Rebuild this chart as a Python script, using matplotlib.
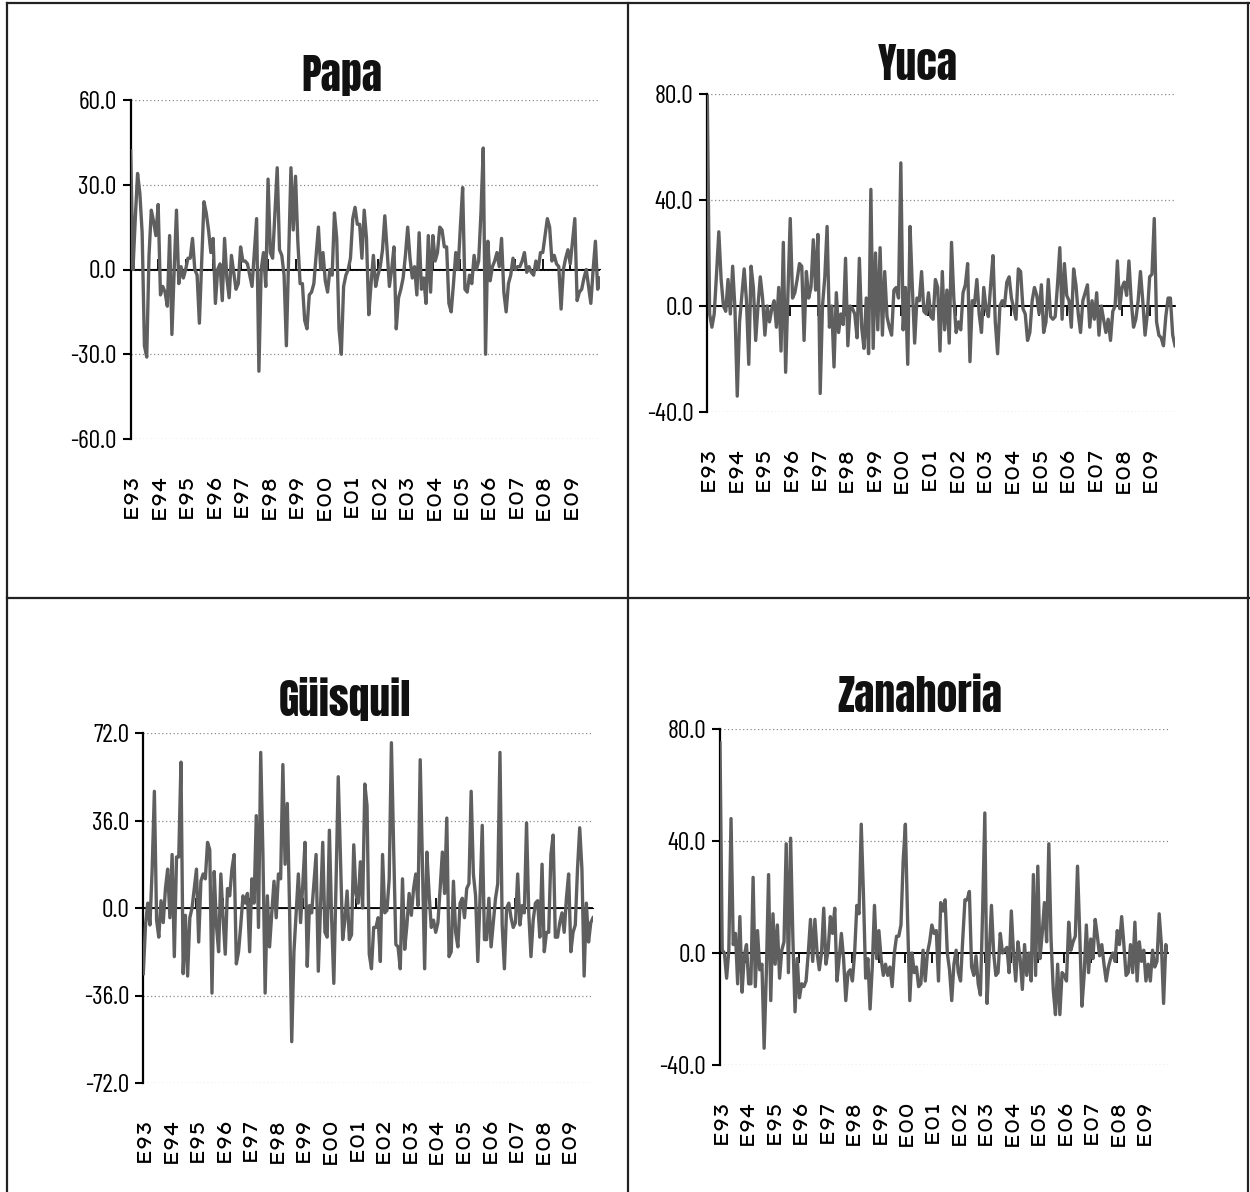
import numpy as np
import matplotlib
matplotlib.use("Agg")
import matplotlib.pyplot as plt
from matplotlib.lines import Line2D

# monthly variation series (E93 onward)
papa = [
    42, 0, 18, 34, 27, 13, -27, -31, 5, 21, 17, 12,
    23, -9, -6, -8, -13, 12, -23, 0, 21, -5, 1, -3,
    0, 4, 4, 11, 0, -2, -19, 3, 24, 20, 14, 6,
    11, -12, 0, 2, -11, 11, -3, -10, 5, -1, -7, -5,
    8, 3, 3, 2, -2, -6, 6, 18, -36, 0, 6, -6,
    32, 6, 4, 20, 36, 7, 5, -2, -27, 5, 36, 14,
    33, 10, -5, -5, -18, -21, -9, -8, -5, 5, 15, 0,
    6, -4, -8, 0, -2, 20, 11, -21, -30, -6, -2, 0,
    4, 18, 22, 16, 16, 4, 21, 11, -16, -5, 5, -6,
    -2, 1, 7, 19, 7, -6, 0, 8, -21, -10, -7, -3,
    5, 15, 4, -3, 1, -9, 13, -7, -3, -12, 12, -8,
    12, 3, 6, 15, 14, 8, 8, -12, -15, -5, 6, 0,
    15, 29, -7, -8, -2, -5, 5, 0, 3, 20, 43, -30,
    10, -4, 1, 3, 6, 1, 11, -8, -15, -5, -2, 4,
    0, 1, 1, 3, 6, -1, 1, -1, -2, 3, 0, 6,
    6, 12, 18, 15, 3, 5, 2, 1, -14, 0, 4, 7,
    2, 10, 18, -11, -8, -7, -3, 0, -6, -12, 0, 10,
    -7, -3,
]

yuca = [
    79, -3, -8, -3, 12, 28, 10, 0, -2, 10, -3, 15,
    -1, -34, -6, 4, 14, 2, -22, 15, 7, -13, 0, 11,
    3, -11, 0, -6, -1, 2, -8, 7, -17, 24, -25, 5,
    33, 3, 5, 10, 16, 15, -13, 13, 3, 7, 25, 6,
    27, -33, 0, 11, 30, -8, 0, -23, 5, -10, -3, -7,
    18, -15, 0, -1, -3, -12, 18, -8, -16, 3, -18, 44,
    -16, 20, -9, 22, -11, 13, -4, -8, -11, 6, 7, 3,
    54, -9, 7, -22, 30, 7, -14, 3, 2, 13, -2, -3,
    5, -4, -5, 10, 7, -17, 13, -9, 6, -14, 24, 3,
    -10, -6, -9, 5, 8, 16, -21, 2, 1, 10, -3, -10,
    7, -1, -4, 8, 19, -6, -18, 0, 2, 0, 9, 11,
    3, -1, -5, 14, 13, -1, -3, -13, -10, 2, 7, 4,
    -3, 8, -10, -6, 10, -4, -5, -4, 8, 22, -5, 16,
    4, 2, -8, 14, 8, -3, -10, 2, 5, 8, -8, 2,
    -5, 5, -11, 0, -5, -10, -5, -13, -2, 0, 17, -1,
    7, 9, 4, 17, 2, -8, -5, 2, 13, 2, -11, -3,
    11, 12, 33, -6, -11, -12, -15, -4, 3, 3, -11, -15,
]

guisquil = [
    -27, -7, 2, -7, 16, 48, -5, -12, 3, -6, 8, 16,
    -4, 22, -20, 21, 21, 60, -27, -3, -28, -4, 0, 8,
    16, -14, 11, 14, 12, 27, 24, -35, 15, -7, -18, 14,
    -4, -19, 8, 5, 16, 22, -23, -18, -7, 5, 2, 6,
    -18, 12, 2, 38, -8, 64, 22, -35, 5, -16, -2, 11,
    -4, 14, 12, 59, 18, 43, 1, -55, -18, -2, 14, -6,
    10, 27, -24, 1, -2, 10, 22, -26, 0, 27, -10, -12,
    32, -4, -31, 10, 54, 20, -13, -5, 7, -13, -11, 26,
    6, 2, 19, 0, 51, 42, -19, -25, -8, -8, -4, -22,
    22, -2, -1, 12, 68, 25, -15, -16, -25, 12, -17, -7,
    6, -3, 8, 14, 1, 61, 18, -25, 23, 6, -8, -5,
    -10, -6, 8, 23, 6, 37, -20, -18, 11, -10, -16, 2,
    4, -4, 8, 10, 48, 14, 5, -22, 4, 34, -13, -13,
    4, -16, -6, 4, 10, 64, -7, -25, 0, 2, -4, -8,
    -6, 14, -7, 1, -2, 35, -2, -20, -5, 2, 3, -12,
    18, -18, -10, -10, 22, 30, -12, -12, -6, -2, -10, 4,
    14, -18, -10, -7, 16, 33, 16, -28, 2, -14, -6, -4,
]

zanahoria = [
    75, 1, 0, -9, 1, 48, 3, 7, -11, 13, -14, -1,
    3, -11, -11, 27, -12, 8, -6, -4, -34, -7, 28, -17,
    14, -4, 10, -9, 1, 4, 39, -7, 41, 6, -21, -2,
    -16, -11, -12, -10, 0, 12, -3, 12, 0, -6, 0, 16,
    -4, 1, 13, 7, 16, -10, -2, 7, -2, -17, -7, -6,
    -10, 0, 17, 14, 46, 21, -9, -2, -20, -5, 17, -2,
    8, -2, -8, -4, -8, -5, -12, 0, 6, 6, 10, 33,
    46, 12, -17, 0, -7, -5, -12, -11, 1, -10, 0, 4,
    10, 7, 8, -10, 18, 15, 19, 0, -6, -17, -4, 1,
    -7, -10, 5, 19, 19, 22, -5, -8, -1, -11, -15, 15,
    50, -18, 0, 17, 0, -8, -7, 7, 0, 1, 2, -7,
    15, 0, -10, 4, -2, -13, 3, -8, 0, -10, 28, -8,
    31, -2, 7, 18, 4, 39, 5, -13, -22, -4, -22, -7,
    -8, -10, 11, 1, 4, 6, 31, 7, -19, -8, 10, -7,
    5, -2, 12, 6, -1, 3, -4, -10, -5, -2, 0, -3,
    8, 3, 13, 3, -8, -7, 3, -7, 11, -10, 4, -3,
    1, -10, -4, -10, 1, -5, -3, 14, 3, -18, 3, 1,
]

year_labels = ["E93", "E94", "E95", "E96", "E97", "E98", "E99", "E00", "E01",
               "E02", "E03", "E04", "E05", "E06", "E07", "E08", "E09"]

plt.rcParams["font.family"] = ["Barlow Condensed", "DejaVu Sans"]
plt.rcParams["axes.unicode_minus"] = False

W, H = 1250, 1192
LINE = "#5f5f5f"
YFONT = ["Barlow Condensed", "DejaVu Sans"]
XFONT = ["Lexend Mega", "Lexend Giga", "Liberation Sans"]
TFONT = ["Anton", "Oswald", "DejaVu Sans"]


def panel(fig, box, values, yticks, title, title_pos):
    """box = (x0, y0, x1, y1) in pixels, top-left origin."""
    x0, y0, x1, y1 = box
    ax = fig.add_axes([x0 / W, 1 - y1 / H, (x1 - x0) / W, (y1 - y0) / H])
    x = np.arange(len(values))
    ax.plot(x, values, color=LINE, lw=2.4, zorder=3)
    ax.set_xlim(0, len(values) - 1)
    ax.set_ylim(yticks[0], yticks[-1])

    ax.set_yticks(yticks)
    ax.set_yticklabels([f"{v:.1f}" for v in yticks], fontsize=18.5,
                       family=YFONT)
    ax.yaxis.grid(True, ls=(0, (1, 2)), color="#8a8a8a", lw=0.9)
    ax.tick_params(axis="y", direction="out", length=6, width=1.5, pad=4)

    for s in ("top", "right", "bottom"):
        ax.spines[s].set_visible(False)
    ax.spines["left"].set_linewidth(1.6)

    # year labels below the plot, tick marks on the zero line
    ticks = np.arange(0, len(values), 12)[:len(year_labels)]
    ax.set_xticks(ticks)
    ax.set_xticklabels(year_labels[:len(ticks)], rotation=90, fontsize=15,
                       family=XFONT, fontweight="light", va="top")
    ax.tick_params(axis="x", length=0, pad=24)

    zero = (0 - yticks[0]) / (yticks[-1] - yticks[0])
    sec = ax.secondary_xaxis(zero)
    sec.set_xticks(ticks)
    sec.set_xticklabels([])
    sec.tick_params(direction="out", length=7, width=1.3)
    sec.spines["bottom"].set_linewidth(1.3)
    ax.axhline(0, color="black", lw=1.3, zorder=2)

    fig.text(title_pos[0] / W, 1 - title_pos[1] / H, title, ha="center",
             va="center", fontsize=30, family=TFONT, color="#111111")
    return ax


fig = plt.figure(figsize=(W / 100, H / 100), dpi=100)

panel(fig, (130.7, 100, 600, 439), papa, [-60, -30, 0, 30, 60], "Papa", (342, 76))
panel(fig, (707.3, 94, 1175, 412), yuca, [-40, 0, 40, 80], "Yuca", (918, 64))
panel(fig, (143.3, 733, 593, 1083), guisquil, [-72, -36, 0, 36, 72], "Güisquil", (345, 699))
panel(fig, (720, 729, 1168, 1065), zanahoria, [-40, 0, 40, 80], "Zanahoria", (920, 696))

# frame and dividers
frame = dict(color="#222222", lw=1.6, transform=fig.transFigure)
fig.add_artist(Line2D([7 / W, 7 / W], [0, 1 - 3 / H], **frame))
fig.add_artist(Line2D([7 / W, 1], [1 - 3 / H, 1 - 3 / H], **frame))
fig.add_artist(Line2D([1248 / W, 1248 / W], [0, 1 - 3 / H], **frame))
fig.add_artist(Line2D([628 / W, 628 / W], [0, 1 - 3 / H], **frame))
fig.add_artist(Line2D([7 / W, 1], [1 - 598 / H, 1 - 598 / H], **frame))

fig.savefig("out.png", dpi=100)
